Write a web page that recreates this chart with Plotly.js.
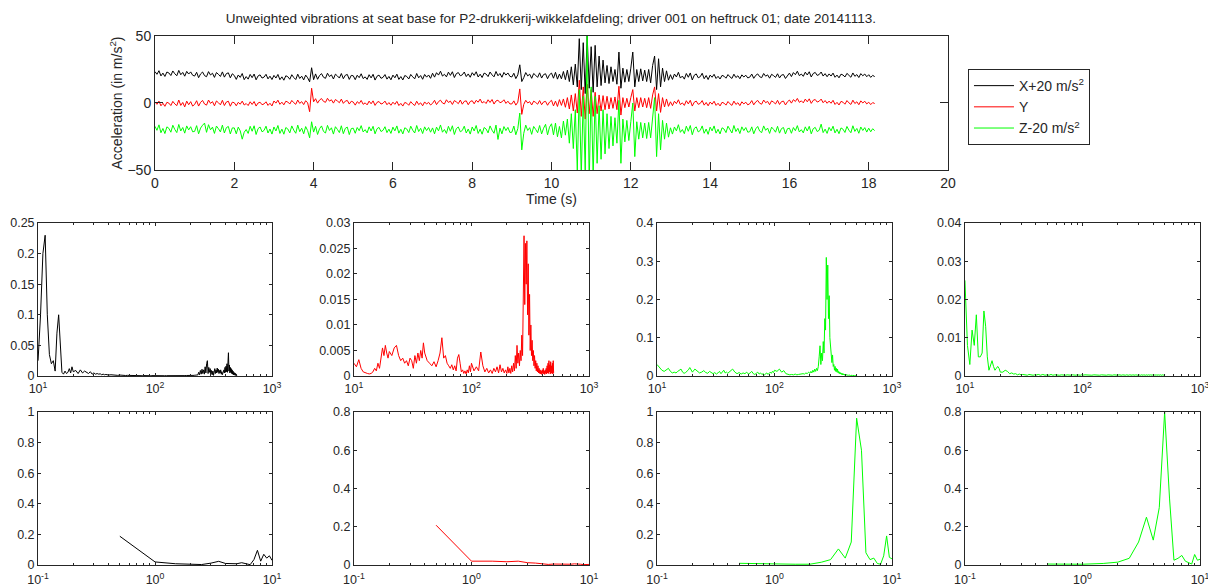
<!DOCTYPE html>
<html>
<head>
<meta charset="utf-8">
<script src="https://cdn.plot.ly/plotly-3.0.1.min.js"></script>
<style>
html,body{margin:0;padding:0;background:#fff;}
#chart{width:1208px;height:585px;}
</style>
</head>
<body>
<div id="chart"></div>
<script>
// ---------------- text ----------------
const TITLE = "Unweighted vibrations at seat base for P2-drukkerij-wikkelafdeling; driver 001 on heftruck 01; date 20141113.";
const SERIES_NAMES = ["X+20 m/s<sup>2</sup>", "Y", "Z-20 m/s<sup>2</sup>"];
const TIME_TITLE = "Time (s)";
const ACC_TITLE = "Acceleration (in m/s<sup>2</sup>)";

// ---------------- time signals (m/s^2), sampled every 0.05 s ----------------
const TIME_START = 0, TIME_STEP = 0.05;
const X_OFFSET = 20, Y_OFFSET = 0, Z_OFFSET = -20;

const accX = [
3.4,1.4,4.1,0.2,2.3,-0.2,3.1,2.4,0.5,3.9,1.8,0.3,4.3,1.1,2.8,0.0,3.6,1.6,3.2,0.7,
0.1,2.9,-1.1,1.7,3.1,0.4,-0.4,3.4,0.9,2.2,-0.9,2.7,1.4,-0.2,3.2,-0.7,1.9,2.5,-1.2,1.8,
0.5,-2.4,0.9,-0.9,2.0,-2.6,-0.3,-2.2,1.3,-1.1,1.6,-2.7,0.2,1.0,-1.4,-0.7,1.4,-2.0,0.0,-2.5,
0.6,-1.4,1.3,-2.6,-0.5,-3.0,0.3,-0.4,-2.3,1.1,-1.0,-2.5,1.5,-1.7,0.0,-2.8,0.8,-1.2,-4.2,6.3,
-2.6,1.7,-2.3,0.5,1.9,-0.8,-1.6,2.2,-0.3,1.0,-2.1,1.5,0.2,-1.4,2.0,-1.9,0.7,1.3,-2.4,0.6,
0.3,-2.6,0.7,-1.1,1.8,-1.8,-0.5,-2.4,1.1,-1.3,1.4,-2.9,0.0,0.8,-1.6,-0.9,1.2,-2.2,-0.2,-2.7,
0.8,-1.2,1.5,-2.4,-0.3,-2.8,0.5,-0.2,-2.1,1.3,-0.5,-2.0,2.0,-1.2,0.5,-2.3,1.3,-0.7,0.9,-1.6,
2.2,-0.7,2.6,0.8,3.7,0.1,1.4,-0.5,3.0,0.6,3.3,-1.0,1.9,2.7,0.3,1.0,3.1,-0.3,1.7,-0.8,
2.6,0.6,3.3,-0.6,1.5,-1.0,2.3,1.6,-0.3,3.1,1.0,-0.5,3.5,0.3,2.0,-0.8,2.8,0.8,2.4,-0.1,
-0.6,2.2,-1.8,1.0,8.5,-4.0,-1.1,2.7,0.2,1.5,-1.6,2.0,0.7,-0.9,2.5,-1.4,1.2,1.8,-1.9,1.1,
2.3,-1.5,2.9,-2.2,1.6,-2.0,3.5,-2.6,4.5,-4.0,7.0,-6.5,9.0,-8.0,28.0,-10.0,25.0,-13.0,30.0,-9.0,
22.0,-12.0,23.0,-8.0,15.0,-7.0,12.0,-5.0,8.0,-5.5,7.0,-4.0,5.0,-6.0,18.0,-9.0,6.0,-4.5,5.0,-4.0,
6.0,18.0,-8.0,5.0,-4.0,5.5,-3.5,4.5,-4.0,5.0,-5.0,8.0,15.0,-10.0,13.0,-8.0,6.0,-4.0,4.0,-3.0,
1.1,-2.4,1.6,-0.6,2.9,-1.4,0.1,-2.2,2.0,-0.8,2.4,-2.8,0.7,1.7,-1.2,-0.4,2.2,-1.9,0.5,-2.5,
0.8,-0.8,1.4,-1.7,-0.1,-2.1,0.6,0.0,-1.5,1.2,-0.5,-1.7,1.5,-1.0,0.3,-1.9,1.0,-0.6,0.7,-1.3,
-0.7,1.6,-1.6,0.6,1.7,-0.4,-1.1,2.0,0.0,1.0,-1.5,1.4,0.4,-0.9,1.8,-1.3,0.8,1.2,-1.7,0.7,
2.3,-0.3,2.7,1.1,3.7,0.4,1.6,-0.1,3.0,0.9,3.3,-0.6,2.0,2.8,0.6,1.2,3.1,0.1,1.9,-0.4,
1.7,0.1,2.3,-0.8,0.8,-1.2,1.5,0.9,-0.6,2.1,0.4,-0.8,2.4,-0.1,1.2,-1.0,1.9,0.3,1.6,-0.4,
1.1,-0.9,0.6,-0.3
];

const accY = [
0.8,-1.0,1.4,-2.1,-0.2,-2.5,0.5,-0.1,-1.9,1.2,-0.7,-2.0,2.2,-1.8,0.4,-2.9,1.4,-1.3,1.0,-2.3,
-1.1,1.7,-2.3,0.5,1.9,-0.8,-1.6,2.2,-0.3,1.0,-2.1,1.5,0.2,-1.4,2.0,-1.9,0.7,1.3,-2.4,0.6,
0.2,-2.1,0.5,-0.9,1.4,-1.5,-0.4,-1.9,0.9,-1.1,1.1,-2.3,0.0,0.6,-1.3,-0.7,0.9,-1.8,-0.2,-2.2,
1.5,-0.1,2.1,-1.0,0.6,-1.4,1.3,0.7,-0.8,1.9,0.2,-1.0,2.2,-0.3,1.0,-1.2,1.7,0.1,-6.5,11.0,
0.9,3.2,-0.1,2.2,3.3,1.2,0.5,3.5,1.4,2.4,-0.1,2.6,1.5,0.2,2.9,-0.3,1.4,1.9,-0.8,1.3,
0.7,-1.6,1.0,-0.4,1.9,-1.0,0.1,-1.4,1.4,-0.6,1.6,-1.8,0.5,1.1,-0.8,-0.2,1.4,-1.3,0.3,-1.7,
0.6,-1.0,1.2,-1.9,-0.3,-2.3,0.4,-0.2,-1.7,1.0,-0.7,-1.9,1.3,-1.2,0.1,-2.1,0.8,-0.8,0.5,-1.5,
-0.3,2.0,-1.2,1.0,2.1,0.0,-0.7,2.4,0.4,1.4,-1.1,1.8,0.8,-0.5,2.2,-0.9,1.2,1.6,-1.3,1.1,
1.7,-0.6,2.0,0.6,2.9,0.0,1.1,-0.4,2.4,0.4,2.6,-0.8,1.5,2.1,0.2,0.8,2.4,-0.3,1.3,-0.7,
-0.7,1.6,-1.6,0.6,10.5,-8.5,-1.1,2.0,0.0,1.0,-1.5,1.4,0.4,-0.9,1.8,-1.3,0.8,1.2,-1.7,0.7,
2.0,-2.2,1.4,-2.6,2.5,-1.8,3.0,-3.2,4.0,-4.5,6.0,-6.0,7.0,-7.5,17.0,-10.0,12.0,-12.0,14.0,-8.0,
10.0,-10.0,8.0,-8.0,6.0,-6.0,5.5,-5.0,5.0,-4.5,4.0,-4.0,4.5,-5.0,12.5,-9.0,4.0,-3.5,3.5,-3.0,
4.0,10.0,-6.0,4.0,-3.5,4.0,-3.0,3.5,-3.5,4.0,-4.0,6.0,12.0,-6.0,7.0,-7.0,4.0,-3.0,3.0,-2.5,
0.9,-2.0,1.3,-0.5,2.4,-1.2,0.1,-1.8,1.7,-0.7,2.0,-2.3,0.6,1.4,-1.0,-0.3,1.8,-1.6,0.4,-2.1,
0.7,-0.9,1.3,-1.8,-0.2,-2.2,0.5,-0.1,-1.6,1.1,-0.6,-1.8,1.4,-1.1,0.2,-2.0,0.9,-0.7,0.6,-1.4,
-0.5,1.8,-1.4,0.8,1.9,-0.2,-0.9,2.2,0.2,1.2,-1.3,1.6,0.6,-0.7,2.0,-1.1,1.0,1.4,-1.5,0.9,
2.2,-0.1,2.5,1.1,3.4,0.5,1.6,0.1,2.9,0.9,3.1,-0.3,2.0,2.6,0.7,1.3,2.9,0.2,1.8,-0.2,
1.4,-0.2,2.0,-1.1,0.5,-1.5,1.2,0.6,-0.9,1.8,0.1,-1.1,2.1,-0.4,0.9,-1.3,1.6,0.0,1.3,-0.7,
0.6,-1.2,0.3,-0.4
];

const accZ = [
2.6,-0.4,3.7,-2.2,1.0,-2.8,2.2,1.1,-1.8,3.4,0.2,-2.1,4.0,-0.9,1.7,-2.5,2.9,-0.1,2.3,-1.5,
-1.2,3.1,-3.0,1.3,3.4,5.0,-1.9,3.8,0.0,2.0,-2.7,2.8,0.8,-1.6,3.5,-2.4,1.6,2.5,-3.1,1.4,
1.4,-3.0,2.0,-0.8,-7.0,-1.8,0.2,-2.7,2.6,-1.1,3.0,-3.5,0.9,2.1,-1.5,-0.5,2.7,-2.4,0.6,-3.2,
2.1,-0.9,3.2,-2.7,0.5,-3.3,1.7,0.6,-2.3,2.9,-0.3,-2.6,3.5,-1.4,1.2,-3.0,2.4,-0.6,-6.0,6.0,
-1.7,2.6,-3.5,0.8,2.9,-1.2,-2.4,3.3,-0.5,1.5,-3.2,2.3,0.3,-2.1,3.0,-2.9,1.1,2.0,-3.6,0.9,
1.2,-2.6,1.7,-0.7,3.1,-1.6,0.1,-2.3,2.2,-0.9,2.6,-3.0,0.8,1.8,-1.3,-0.4,2.3,-2.1,0.5,-2.7,
2.0,-0.8,2.9,-2.5,0.4,-3.1,1.5,0.6,-2.1,2.7,-0.3,-2.4,3.2,-1.3,1.1,-2.8,2.2,-0.6,1.7,-1.8,
1.4,-3.0,2.0,-0.8,3.6,-1.8,0.2,-2.7,2.6,-1.1,3.0,-3.5,0.9,2.1,-1.5,-0.5,2.7,-2.4,0.6,-3.2,
2.1,-0.9,3.2,-2.7,0.5,-3.3,1.7,0.6,-2.3,2.9,-0.3,-2.6,3.5,-7.2,1.2,-3.0,2.4,-0.6,1.8,-2.0,
-1.8,2.8,-3.7,0.9,12.5,-15.0,-2.6,3.5,-0.5,1.6,-3.4,2.5,0.3,-2.2,3.2,-3.1,1.2,4.1,-3.8,2.0,
4.5,-3.8,5.0,-5.2,2.5,-6.0,6.5,-4.0,8.0,-10.0,12.0,-14.0,15.0,-30.0,30.0,-35.0,25.0,-32.0,70.0,-40.0,
32.0,-35.0,25.0,-25.0,18.0,-22.0,15.0,-18.0,12.0,-14.0,10.0,-12.0,9.0,-10.0,22.0,-25.0,8.0,-9.0,7.0,-8.0,
6.0,20.0,-20.0,6.0,-7.0,5.5,-6.0,5.0,-6.5,5.5,-6.0,9.0,24.0,-20.0,12.0,-15.0,7.0,-7.0,5.0,-5.5,
1.5,-3.2,2.1,-0.8,3.8,-1.9,0.2,-2.9,2.7,-1.1,3.2,-3.7,1.0,2.2,-1.6,-0.5,2.9,-2.6,0.6,-3.4,
2.0,-0.8,2.9,-2.5,0.4,-3.1,1.5,0.6,-2.1,2.7,-0.3,-2.4,3.2,-1.3,1.1,-2.8,2.2,-0.6,1.7,-1.8,
-1.4,2.2,-3.0,0.7,2.5,-1.0,-2.1,2.9,-0.4,1.3,-2.7,2.0,0.3,-1.8,2.6,-2.5,0.9,1.7,-3.1,0.8,
1.2,-2.6,1.7,-0.7,3.1,-1.6,0.1,-2.3,2.2,-0.9,2.6,-3.0,0.8,1.8,-1.3,-0.4,4.2,-2.1,0.5,-2.7,
1.8,-0.8,2.7,-2.3,0.4,-2.9,1.4,0.5,-2.0,2.5,-0.3,-2.2,3.0,-1.2,1.0,-2.6,2.1,-0.5,1.6,-1.7,
1.2,-1.5,0.8,-0.6
];

// ---------------- spectra, 10 - 500 Hz ----------------
const freqHigh = [
10,10.5,11,11.5,12,12.5,13,13.5,14,14.5,15,15.5,16,16.5,17,17.5,18,18.5,19,19.5,20,
21,22,23,24,25,26,27,28,29,30,31,32,33,34,35,36,37,38,39,40,
42,44,46,48,50,52,54,56,58,60,62,64,66,68,70,72,74,76,78,80,82,84,86,88,90,92,94,96,98,100,
105,110,115,120,125,130,135,140,145,150,155,160,165,170,175,180,185,190,195,200,
204,208,212,216,220,224,228,232,236,240,244,248,252,256,260,264,268,272,276,280,
284,288,292,296,300,304,308,312,316,320,324,328,332,336,340,344,348,352,356,360,
364,368,372,376,380,384,388,392,396,400,404,408,412,416,420,424,428,432,436,440,
444,448,452,456,460,464,468,472,476,480,484,488,492,496,500
];
const specHighX = [
0.025,0.1,0.2,0.23,0.1,0.035,0.02,0.025,0.008,0.07,0.1,0.04,0.006,0.003,0.008,0.004,0.006,0.012,0.005,0.015,0.007,
0.009,0.004,0.01,0.005,0.008,0.006,0.004,0.007,0.003,0.005,0.003,0.004,0.003,0.0035,0.002,0.003,0.002,0.0025,0.002,0.0015,
0.002,0.0015,0.002,0.001,0.0015,0.001,0.0012,0.0008,0.001,0.0008,0.001,0.0007,0.0009,0.0006,0.0008,0.0006,0.0008,0.0005,0.0007,0.0005,
0.0006,0.0005,0.0007,0.0005,0.0006,0.0004,0.0006,0.0005,0.0008,0.0005,
0.0006,0.0004,0.0005,0.0004,0.0005,0.0004,0.0005,0.0004,0.0005,0.0004,0.0005,0.0004,0.0006,0.0005,0.0007,0.0006,0.0008,0.0007,0.001,0.0008,
0.001,0.0008,0.0012,0.001,0.0015,0.001,0.002,0.0015,
0.006,0.002,0.009,0.003,0.011,0.004,0.01,0.003,0.015,0.005,0.02,
0.025,0.004,0.014,0.006,0.012,0.003,0.009,0.002,0.008,0.001,0.007,
0.012,0.004,0.01,0.005,0.013,0.006,0.011,0.004,0.009,0.005,0.01,0.003,0.007,0.002,0.005,
0.004,0.01,0.005,0.014,0.006,0.016,0.007,0.02,0.006,0.015,0.038,0.008,0.018,0.005,0.014,
0.006,0.012,0.004,0.01,0.003,0.008,0.002,0.006,0.002,0.005,0.001,0.004,0.001,0.003,0.001
];
const specHighY = [
0.0025,0.0018,0.0032,0.0015,0.0008,0.0006,0.0005,0.0004,0.0005,0.0008,0.0015,0.001,0.0025,0.0015,0.0035,0.0055,0.004,0.006,0.0045,0.0035,0.0048,
0.004,0.0055,0.006,0.004,0.003,0.0035,0.0025,0.003,0.002,0.0035,0.003,0.0015,0.004,0.0025,0.0045,0.003,0.005,0.0035,0.0065,0.0045,
0.003,0.0025,0.002,0.0028,0.0018,0.003,0.0045,0.0075,0.0035,0.004,0.0025,0.002,0.0015,0.0022,0.0012,0.002,0.001,0.0035,0.0042,0.0025,
0.0008,0.0012,0.0005,0.001,0.0004,0.0012,0.0006,0.002,0.0008,0.0025,
0.001,0.0018,0.001,0.0047,0.002,0.0008,0.0015,0.0006,0.0012,0.0005,0.0015,0.0008,0.0018,0.0006,0.0022,0.0008,0.0015,0.0006,0.0012,0.0005,
0.0018,0.0006,0.0015,0.0005,0.002,0.0008,0.0025,0.001,
0.004,0.0015,0.006,0.0025,0.0045,0.002,0.005,0.003,0.008,0.004,0.012,
0.0275,0.014,0.026,0.018,0.0265,0.012,0.022,0.008,0.016,0.005,0.01,
0.004,0.007,0.003,0.005,0.002,0.004,0.0015,0.003,0.001,0.0025,0.0008,0.002,0.0006,0.0015,0.0005,
0.0012,0.0004,0.001,0.0003,0.0012,0.0005,0.0015,0.0004,0.001,0.0003,0.0012,0.0005,0.0015,0.0004,0.002,
0.0006,0.0025,0.0005,0.003,0.0008,0.0022,0.0004,0.0028,0.0006,0.002,0.0005,0.0025,0.0004,0.003,0.0006
];
const specHighZ = [
0.03,0.022,0.015,0.012,0.015,0.02,0.012,0.008,0.01,0.008,0.012,0.016,0.018,0.01,0.007,0.009,0.012,0.016,0.022,0.015,0.01,
0.018,0.012,0.008,0.01,0.014,0.009,0.007,0.012,0.008,0.006,0.009,0.005,0.008,0.012,0.006,0.01,0.015,0.008,0.01,0.007,
0.012,0.018,0.01,0.006,0.009,0.005,0.008,0.006,0.01,0.005,0.008,0.012,0.006,0.004,0.007,0.01,0.005,0.008,0.004,0.006,
0.003,0.005,0.008,0.004,0.006,0.01,0.007,0.012,0.009,0.015,
0.012,0.018,0.01,0.014,0.006,0.004,0.003,0.004,0.003,0.005,0.003,0.004,0.005,0.004,0.006,0.005,0.008,0.006,0.01,0.007,
0.012,0.008,0.015,0.01,0.018,0.012,0.02,0.014,
0.025,0.05,0.079,0.03,0.06,0.04,0.09,0.06,0.15,0.12,0.31,
0.2,0.29,0.15,0.21,0.1,0.08,0.05,0.035,0.055,0.025,0.03,
0.015,0.025,0.012,0.02,0.01,0.018,0.008,0.012,0.006,0.01,0.005,0.008,0.004,0.007,0.003,
0.006,0.003,0.005,0.002,0.004,0.002,0.004,0.002,0.003,0.0015,0.003,0.0015,0.0025,0.001,0.002,
0.001,0.002,0.001,0.0015,0.001,0.0015,0.0008,0.0012,0.0008,0.001,0.0006,0.001,0.0006,0.0008,0.0005
];
const specHighZ2 = [
0.025,0.008,0.003,0.012,0.008,0.016,0.005,0.005,0.006,0.017,0.013,0.005,0.0015,0.003,0.004,0.0025,0.0015,0.002,0.0025,0.002,0.001,
0.001,0.0015,0.0012,0.0006,0.0008,0.0005,0.0006,0.0003,0.0005,0.0003,0.0004,0.0003,0.0004,0.0002,0.0004,0.0003,0.0004,0.0002,0.0003,0.0002,
0.0004,0.0002,0.0004,0.0002,0.0003,0.0002,0.0004,0.0002,0.0003,0.0002,0.0003,0.0002,0.0003,0.0002,0.0003,0.0002,0.0003,0.0002,0.0003,0.0002,
0.0003,0.0002,0.0003,0.0002,0.0003,0.0002,0.0003,0.0002,0.0003,0.0002,
0.0003,0.0002,0.0003,0.0002,0.0003,0.0002,0.0003,0.0002,0.0003,0.0002,0.0003,0.0002,0.0003,0.0002,0.0003,0.0002,0.0003,0.0002,0.0003,0.0002,
0.0003,0.0002,0.0003,0.0002,0.0003,0.0002,0.0003,0.0002,
0.0003,0.0002,0.0003,0.0002,0.0003,0.0002,0.0003,0.0002,0.0003,0.0002,0.0003,
0.0002,0.0003,0.0002,0.0003,0.0002,0.0003,0.0002,0.0003,0.0002,0.0003,0.0002,
0.0003,0.0002,0.0003,0.0002,0.0003,0.0002,0.0003,0.0002,0.0003,0.0002,0.0003,0.0002,0.0003,0.0002,0.0003,
0.0002,0.0003,0.0002,0.0003,0.0002,0.0003,0.0002,0.0003,0.0002,0.0003,0.0002,0.0003,0.0002,0.0003,0.0002,
0.0003,0.0002,0.0003,0.0002,0.0003,0.0002,0.0003,0.0002,0.0003,0.0002,0.0003,0.0002,0.0003,0.0002,0.0004
];

// ---------------- spectra, 0.5 - 10 Hz ----------------
const freqLow = [0.5,1,1.5,2,2.5,3,3.5,4,4.5,5,5.5,6,6.5,7,7.5,8,8.5,9,9.5,10];
const specLowX  = [0.188,0.02,0.008,0.003,0.003,0.012,0.024,0.01,0.008,0.008,0.015,0.008,0.002,0.035,0.096,0.025,0.07,0.045,0.06,0.03];
const specLowY  = [0.208,0.02,0.02,0.017,0.02,0.012,0.01,0.005,0.003,0.005,0.004,0.005,0.003,0.004,0.006,0.003,0.004,0.002,0.003,0.003];
const specLowZ  = [0.011,0.005,0.005,0.005,0.018,0.035,0.105,0.045,0.15,0.96,0.75,0.08,0.035,0.045,0.01,0.005,0.06,0.19,0.05,0.04];
const specLowZ2 = [0.005,0.004,0.008,0.015,0.035,0.12,0.25,0.13,0.3,0.8,0.35,0.025,0.035,0.05,0.02,0.01,0.005,0.055,0.025,0.03];

// ---------------- ticks ----------------
const timeTicks = [0,2,4,6,8,10,12,14,16,18,20];
const accTicks = [-50,0,50];
const highFreqTicks = [10,100,1000];
const highFreqTickText = ["10<sup>1</sup>","10<sup>2</sup>","10<sup>3</sup>"];
const highFreqMinor = [20,30,40,50,60,70,80,90,200,300,400,500,600,700,800,900];
const lowFreqTicks = [0.1,1,10];
const lowFreqTickText = ["10<sup>-1</sup>","10<sup>0</sup>","10<sup>1</sup>"];
const lowFreqMinor = [0.2,0.3,0.4,0.5,0.6,0.7,0.8,0.9,2,3,4,5,6,7,8,9];
const yTicksHigh = [
  {vals:[0,0.05,0.1,0.15,0.2,0.25], text:["0","0.05","0.1","0.15","0.2","0.25"], max:0.25},
  {vals:[0,0.005,0.01,0.015,0.02,0.025,0.03], text:["0","0.005","0.01","0.015","0.02","0.025","0.03"], max:0.03},
  {vals:[0,0.1,0.2,0.3,0.4], text:["0","0.1","0.2","0.3","0.4"], max:0.4},
  {vals:[0,0.01,0.02,0.03,0.04], text:["0","0.01","0.02","0.03","0.04"], max:0.04}
];
const yTicksLow = [
  {vals:[0,0.2,0.4,0.6,0.8,1], text:["0","0.2","0.4","0.6","0.8","1"], max:1},
  {vals:[0,0.2,0.4,0.6,0.8], text:["0","0.2","0.4","0.6","0.8"], max:0.8},
  {vals:[0,0.2,0.4,0.6,0.8,1], text:["0","0.2","0.4","0.6","0.8","1"], max:1},
  {vals:[0,0.2,0.4,0.6,0.8], text:["0","0.2","0.4","0.6","0.8"], max:0.8}
];

// ---------------- styling / layout ----------------
const FONT = "Liberation Sans, Arial, sans-serif";
const AXIS_COLOR = "#262626";
const COLORS = ["#000000", "#ff0000", "#00ff00"];
const PANEL_COLORS = ["#000000", "#ff0000", "#00ff00", "#00ff00"];

function baseAxis(extra) {
  return Object.assign({
    showline: true, linecolor: AXIS_COLOR, linewidth: 1, mirror: "ticks",
    ticks: "inside", ticklen: 3, tickcolor: AXIS_COLOR, tickwidth: 1,
    showgrid: false, zeroline: false, fixedrange: true, automargin: false,
    ticklabeloverflow: "allow",
    tickfont: {family: FONT, size: 12.5, color: AXIS_COLOR}
  }, extra);
}

const COL_DOMAINS = [[0.0315,0.2252],[0.2930,0.4876],[0.5439,0.7384],[0.7988,0.9934]];
const ROW_DOMAINS = [[0.3573,0.6188],[0.0342,0.2957]];

const traces = [];
const accSeries = [[accX, X_OFFSET], [accY, Y_OFFSET], [accZ, Z_OFFSET]];
accSeries.forEach(function (s, i) {
  traces.push({
    type: "scatter", mode: "lines",
    y: s[0].map(function (v) { return v + s[1]; }),
    x0: TIME_START, dx: TIME_STEP,
    name: SERIES_NAMES[i],
    line: {color: COLORS[i], width: 1},
    xaxis: "x", yaxis: "y", hoverinfo: "skip"
  });
});

const topTickFont = {family: FONT, size: 14, color: AXIS_COLOR};
const layout = {
  width: 1208, height: 585,
  margin: {l: 0, r: 0, t: 0, b: 0, pad: 0},
  paper_bgcolor: "#ffffff", plot_bgcolor: "#ffffff",
  font: {family: FONT, size: 12, color: AXIS_COLOR},
  title: {text: TITLE, x: 0.456, xanchor: "center", y: 0.969, yanchor: "middle",
          font: {family: FONT, size: 13.5, color: AXIS_COLOR}},
  showlegend: true,
  legend: {x: 0.8013, y: 0.882, xanchor: "left", yanchor: "top",
           bordercolor: AXIS_COLOR, borderwidth: 1, bgcolor: "#ffffff", itemwidth: 40,
           font: {family: FONT, size: 14, color: AXIS_COLOR}, tracegroupgap: 0},
  xaxis: baseAxis({domain: [0.1283, 0.7848], range: [0, 20], anchor: "y",
                   tickmode: "array", tickvals: timeTicks, ticklen: 8, tickfont: topTickFont,
                   title: {text: TIME_TITLE, standoff: 4, font: {family: FONT, size: 14, color: AXIS_COLOR}}}),
  yaxis: baseAxis({domain: [0.7094, 0.9385], range: [-50, 50], anchor: "x",
                   tickmode: "array", tickvals: accTicks, ticklen: 8, tickfont: topTickFont,
                   title: {text: ACC_TITLE, standoff: 1, font: {family: FONT, size: 14, color: AXIS_COLOR}}})
};

const highSpectra = [specHighX, specHighY, specHighZ, specHighZ2];
const lowSpectra = [specLowX, specLowY, specLowZ, specLowZ2];

for (let r = 0; r < 2; r++) {
  for (let c = 0; c < 4; c++) {
    const n = 2 + r * 4 + c;
    const xa = "x" + n, ya = "y" + n;
    const isHigh = r === 0;
    const yt = isHigh ? yTicksHigh[c] : yTicksLow[c];
    traces.push({
      type: "scatter", mode: "lines",
      x: isHigh ? freqHigh : freqLow,
      y: isHigh ? highSpectra[c] : lowSpectra[c],
      line: {color: PANEL_COLORS[c], width: 1},
      xaxis: xa, yaxis: ya, showlegend: false, hoverinfo: "skip"
    });
    layout["xaxis" + n] = baseAxis({
      domain: COL_DOMAINS[c], anchor: ya, type: "log",
      range: isHigh ? [1, 3] : [-1, 1],
      tickmode: "array",
      tickvals: isHigh ? highFreqTicks : lowFreqTicks,
      ticktext: isHigh ? highFreqTickText : lowFreqTickText,
      ticklabelstandoff: isHigh ? 1 : 3,
      minor: {tickmode: "array", tickvals: isHigh ? highFreqMinor : lowFreqMinor,
              ticks: "inside", ticklen: 2, tickcolor: AXIS_COLOR, tickwidth: 1, showgrid: false}
    });
    layout["yaxis" + n] = baseAxis({
      domain: ROW_DOMAINS[r], anchor: xa, range: [0, yt.max],
      tickmode: "array", tickvals: yt.vals, ticktext: yt.text
    });
  }
}

Plotly.newPlot("chart", traces, layout, {displayModeBar: false, staticPlot: true});
</script>
</body>
</html>
